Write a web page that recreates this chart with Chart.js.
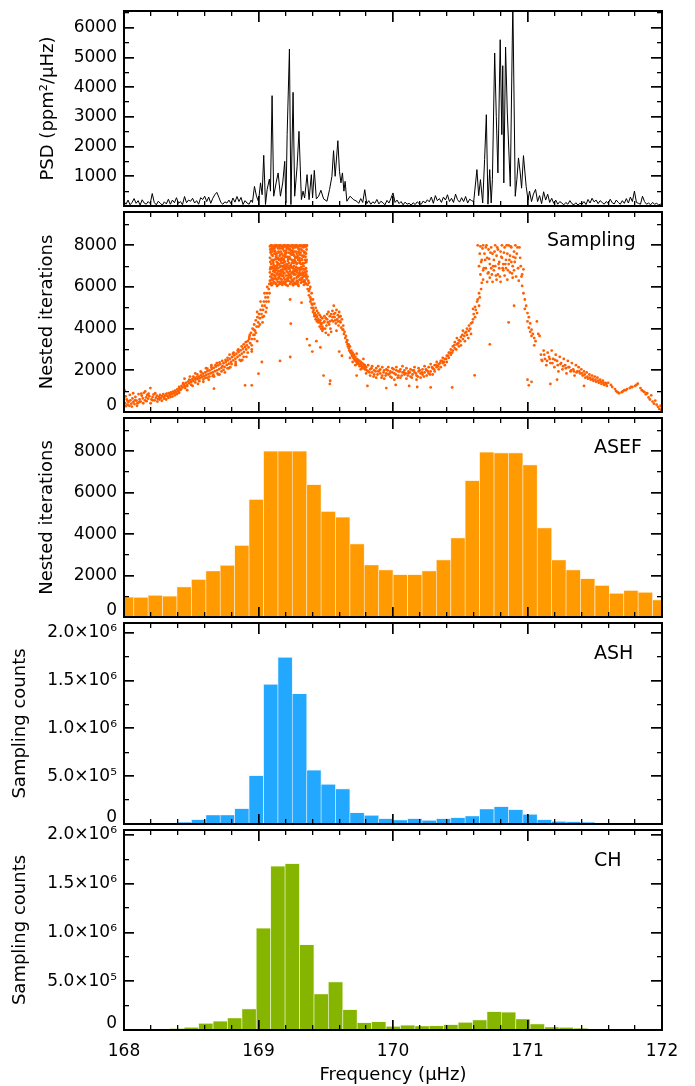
<!DOCTYPE html>
<html>
<head>
<meta charset="utf-8">
<script src="https://cdn.jsdelivr.net/npm/chart.js@4.4.1/dist/chart.umd.min.js"></script>
<style>
  html, body { margin:0; padding:0; background:#fff; }
  body { position:relative; width:695px; height:1086px; overflow:hidden; font-family:"DejaVu Sans", sans-serif; }
  canvas { position:absolute; left:0; }
  .tag { position:absolute; font-family:"DejaVu Sans", sans-serif; font-size:19px; line-height:19px; color:#000; white-space:nowrap; }
</style>
</head>
<body>
<canvas id="cPsd" width="695" height="235" style="top:-4px;width:695px;height:235px"></canvas>
<canvas id="cSampling" width="695" height="247" style="top:190px;width:695px;height:247px"></canvas>
<canvas id="cAsef" width="695" height="246" style="top:396px;width:695px;height:246px"></canvas>
<canvas id="cAsh" width="695" height="248" style="top:601px;width:695px;height:248px"></canvas>
<canvas id="cCh" width="695" height="278" style="top:808px;width:695px;height:278px"></canvas>
<div class="tag" style="left:547px;top:230px">Sampling</div>
<div class="tag" style="left:594px;top:437px">ASEF</div>
<div class="tag" style="left:594px;top:643px">ASH</div>
<div class="tag" style="left:594px;top:849.5px">CH</div>
<script>
// ---------------- DATA ----------------
const xTitle = 'Frequency (µHz)';
const psdTitle = 'PSD (ppm²/µHz)';
const nestedTitle = 'Nested iterations';
const countsTitle = 'Sampling counts';

// axis ticks and labels
const freqTicks = [168, 169, 170, 171, 172];
const freqLabels = ['168', '169', '170', '171', '172'];
const freqMinorTicks = [168.2,168.4,168.6,168.8,169.2,169.4,169.6,169.8,170.2,170.4,170.6,170.8,171.2,171.4,171.6,171.8];
const psdTicks = [1000, 2000, 3000, 4000, 5000, 6000];
const psdLabels = ['1000', '2000', '3000', '4000', '5000', '6000'];
const psdMinorTicks = [500, 1500, 2500, 3500, 4500, 5500, 6500];
const iterTicks = [0, 2000, 4000, 6000, 8000];
const iterLabels = ['0', '2000', '4000', '6000', '8000'];
const iterMinorTicks = [1000, 3000, 5000, 7000, 9000];
const countTicks = [0, 500000, 1000000, 1500000, 2000000];
const countLabels = ['0', '5.0×10⁵', '1.0×10⁶', '1.5×10⁶', '2.0×10⁶'];
const countMinorTicks = [250000, 750000, 1250000, 1750000];

// power spectral density: [frequency µHz, ppm²/µHz]
const psdPoints = [
[168.000,150],[168.015,60],[168.030,200],[168.045,40],[168.060,120],[168.075,250],[168.090,90],[168.105,180],[168.120,30],[168.135,210],
[168.150,100],[168.165,60],[168.180,150],[168.195,80],[168.210,420],[168.225,120],[168.240,40],[168.255,160],[168.270,90],[168.285,30],
[168.300,140],[168.315,70],[168.330,230],[168.345,60],[168.360,200],[168.375,110],[168.390,280],[168.405,90],[168.420,150],[168.435,40],
[168.450,320],[168.465,110],[168.480,200],[168.495,160],[168.510,260],[168.525,100],[168.540,180],[168.555,60],[168.570,280],[168.585,220],
[168.600,330],[168.615,150],[168.630,300],[168.645,90],[168.660,260],[168.675,380],[168.690,460],[168.705,300],[168.720,120],[168.735,60],
[168.750,140],[168.765,100],[168.780,200],[168.795,80],[168.810,270],[168.825,130],[168.840,320],[168.855,150],[168.870,290],[168.885,50],
[168.900,180],[168.915,100],[168.930,60],[168.945,200],[168.955,120],
[168.970,660],[168.985,330],[169.000,150],[169.015,780],[169.027,380],[169.039,1707],[169.052,50],[169.064,550],[169.081,910],[169.089,500],
[169.101,3717],[169.113,330],[169.131,780],[169.146,1114],[169.163,330],[169.180,780],[169.195,1505],[169.204,110],[169.213,2404],[169.230,5290],
[169.241,50],[169.257,3830],[169.269,330],[169.287,1340],[169.301,2515],[169.319,215],[169.331,500],[169.343,270],[169.361,1057],[169.376,215],
[169.393,1057],[169.402,270],[169.415,1200],[169.430,240],[169.447,330],[169.464,530],[169.484,240],[169.509,160],[169.528,550],[169.546,1000],
[169.558,1865],[169.570,1000],[169.590,2200],[169.602,1170],[169.613,780],[169.624,1114],[169.635,500],[169.644,830],[169.657,160],[169.681,330],
[169.706,215],[169.731,160],
[169.745,90],[169.760,250],[169.775,120],[169.790,550],[169.805,80],[169.820,180],[169.835,60],[169.850,140],[169.865,90],[169.880,220],
[169.895,70],[169.910,160],[169.925,110],[169.940,40],[169.955,190],[169.970,100],[169.985,260],[170.000,440],[170.015,120],[170.030,200],
[170.045,80],[170.060,150],[170.075,40],[170.090,130],[170.105,60],[170.120,90],[170.135,30],[170.150,110],[170.165,50],[170.180,140],
[170.195,80],[170.210,60],[170.225,170],[170.240,100],[170.255,210],[170.270,140],[170.285,300],[170.300,90],[170.315,350],[170.330,180],
[170.345,250],[170.360,120],[170.375,300],[170.390,200],[170.405,380],[170.420,150],[170.435,260],[170.450,120],[170.465,400],[170.480,210],
[170.495,130],[170.510,280],[170.525,150],[170.540,320],[170.555,100],[170.570,230],[170.585,180],[170.600,150],
[170.624,1226],[170.637,350],[170.650,889],[170.667,100],[170.681,1562],[170.694,3077],[170.706,60],[170.719,1226],[170.730,100],[170.739,889],
[170.756,5155],[170.768,3020],[170.780,1114],[170.797,5602],[170.809,2404],[170.816,4727],[170.824,777],[170.837,5357],[170.850,3134],[170.872,663],
[170.891,6900],[170.909,327],[170.921,900],[170.933,1620],[170.946,1114],[170.956,600],[170.970,1697],[170.990,663],[171.004,200],[171.015,500],
[171.030,150],[171.044,400],
[171.060,560],[171.075,150],[171.090,350],[171.105,80],[171.120,480],[171.135,200],[171.150,400],[171.165,120],[171.180,260],[171.195,90],
[171.210,200],[171.225,60],[171.240,150],[171.255,100],[171.270,40],[171.285,120],[171.300,60],[171.315,180],[171.330,80],[171.345,40],
[171.360,110],[171.375,30],[171.390,90],[171.405,60],[171.420,150],[171.435,50],[171.450,220],[171.465,100],[171.480,260],[171.495,140],
[171.510,200],[171.525,80],[171.540,180],[171.555,120],[171.570,60],[171.585,150],[171.600,90],[171.615,230],[171.630,110],[171.645,70],
[171.660,200],[171.675,120],[171.690,60],[171.705,180],[171.720,90],[171.735,250],[171.750,100],[171.765,300],[171.780,150],[171.795,500],
[171.810,120],[171.825,90],[171.840,60],[171.855,330],[171.870,150],[171.885,60],[171.900,100],[171.915,40],[171.930,120],[171.945,60],
[171.960,90],[171.975,40],[171.990,60],[172.000,30]
];

// nested sampling points: [frequency µHz, nested iteration]
const samplingPoints = [
[168.004,1050],[168.008,420],[168.014,280],[168.02,600],[168.026,350],[168.033,480],[168.04,300],[168.047,560],[168.055,400],[168.063,650],
[168.07,480],[168.078,380],[168.085,720],[168.093,550],[168.1,420],[168.108,860],[168.116,600],[168.124,500],[168.132,780],[168.14,650],
[168.148,920],[168.156,560],[168.164,700],[168.172,820],[168.18,640],[168.188,760],[168.196,1150],
[168.204,600],[168.212,720],[168.22,840],[168.228,560],[168.236,680],[168.244,780],[168.252,620],[168.26,720],[168.268,820],[168.276,680],
[168.284,760],[168.292,860],[168.3,720],[168.308,800],[168.316,880],[168.324,760],[168.332,900],[168.34,820],[168.348,940],[168.356,860],
[168.364,980],[168.372,900],[168.38,1020],[168.388,940],[168.396,1080],[168.404,1000],[168.412,1140],[168.42,1060],
[168.428,1250],[168.436,1180],[168.444,1320],[168.452,1240],[168.46,1400],[168.468,1300],[168.476,1460],[168.484,1380],[168.492,1520],[168.5,1440],
[168.508,1580],[168.516,1500],[168.524,1640],[168.532,1560],[168.54,1660],[168.548,1580],[168.556,1700],[168.564,1620],
[168.572,1760],[168.58,1680],[168.588,1840],[168.596,1720],[168.604,1900],[168.612,1780],[168.62,1960],[168.628,1820],[168.636,2000],[168.644,1860],
[168.652,2060],[168.66,1900],[168.668,2120],[168.676,1960],[168.684,2180],[168.692,2000],[168.7,2240],[168.708,2060],[168.716,2300],[168.724,2120],
[168.732,2200],[168.74,2340],[168.748,2160],[168.756,2400],[168.62,1650],[168.66,1720],[168.7,1800],[168.669,1120],
[168.764,2260],[168.772,2480],[168.78,2320],[168.788,2560],[168.796,2400],[168.804,2640],[168.812,2480],[168.82,2720],[168.828,2560],[168.836,2800],
[168.844,2640],[168.852,2880],[168.86,2720],[168.868,2960],[168.876,2800],[168.884,3040],[168.892,2880],[168.9,3120],[168.908,3000],
[168.78,2100],[168.83,2250],[168.88,2500],[168.9,1280],[168.95,1280],[169.0,1840],[169.025,2400],
[168.914,3200],[168.92,3400],[168.926,3100],[168.932,3600],[168.938,3300],[168.944,3800],[168.95,3500],[168.956,4000],[168.962,3700],[168.968,4200],
[168.974,3900],[168.98,4400],[168.986,4100],[168.992,4550],[168.998,4300],[169.004,4700],[168.95,3200],[168.97,3500],
[169.01,4500],[169.016,4900],[169.022,4700],[169.028,5100],[169.034,4900],[169.04,5300],[169.046,5100],[169.052,5500],[169.058,5300],[169.064,5700],
[169.07,5500],[169.076,5900],[169.082,5700],[169.04,4600],[169.06,5000],
[169.085,7950],[169.085,7400],[169.085,6700],[169.085,6300],[169.095,8000],[169.095,7100],[169.095,6900],[169.095,6200],
[169.105,7800],[169.105,7500],[169.105,6600],[169.105,6150],[169.115,7990],[169.115,7300],[169.115,6800],[169.115,6400],
[169.125,7700],[169.125,7000],[169.125,6500],[169.125,6200],[169.135,8000],[169.135,7600],[169.135,7200],[169.135,6350],
[169.145,7850],[169.145,7400],[169.145,6900],[169.145,6100],[169.155,7950],[169.155,7100],[169.155,6600],[169.155,6250],
[169.165,8000],[169.165,7700],[169.165,6800],[169.165,6400],[169.175,7600],[169.175,7300],[169.175,7000],[169.175,6150],
[169.185,7900],[169.185,7500],[169.185,6700],[169.185,6250],[169.195,8000],[169.195,7200],[169.195,6850],[169.195,6350],
[169.205,7750],[169.205,7450],[169.205,6550],[169.205,6100],[169.215,7980],[169.215,7050],[169.215,6950],[169.215,6300],
[169.225,8000],[169.225,7650],[169.225,7150],[169.225,6450],[169.235,7800],[169.235,7350],[169.235,6750],[169.235,6150],
[169.245,7950],[169.245,7550],[169.245,6650],[169.245,6250],[169.255,8000],[169.255,7250],[169.255,6900],[169.255,6150],
[169.265,7700],[169.265,7500],[169.265,7000],[169.265,6400],[169.275,7900],[169.275,7200],[169.275,6600],[169.275,6200],
[169.285,8000],[169.285,7600],[169.285,6800],[169.285,6300],[169.295,7850],[169.295,7300],[169.295,6900],[169.295,6100],
[169.305,7950],[169.305,7400],[169.305,6700],[169.305,6350],[169.315,8000],[169.315,7100],[169.315,6600],[169.315,6200],
[169.325,7750],[169.325,7500],[169.325,6850],[169.325,6400],[169.335,7900],[169.335,7000],[169.335,6500],[169.335,6250],
[169.345,8000],[169.345,7300],[169.345,6700],[169.345,6300],[169.355,7950],[169.355,7200],[169.355,6600],[169.355,6150],
[169.09,7650],[169.09,6950],[169.1,7850],[169.1,6450],[169.11,7150],[169.11,6750],[169.12,7750],[169.12,6550],[169.13,7450],[169.13,6850],
[169.14,7050],[169.14,6650],[169.15,7650],[169.15,6450],[169.16,7350],[169.16,6950],[169.17,7150],[169.17,6550],[169.18,7850],[169.18,6750],
[169.19,7250],[169.19,6450],[169.2,7550],[169.2,6950],[169.21,7850],[169.21,6750],[169.22,7350],[169.22,6550],[169.23,7450],[169.23,6850],
[169.24,7050],[169.24,6450],[169.25,7750],[169.25,6950],[169.26,7550],[169.26,6650],[169.27,7250],[169.27,6750],[169.28,7450],[169.28,6950],
[169.29,7150],[169.29,6500],[169.3,7650],[169.3,6600],[169.31,7550],[169.31,6850],[169.32,7350],[169.32,6450],[169.33,7150],[169.33,6650],
[169.34,7650],[169.34,6850],[169.35,7450],[169.35,6500],
[169.1,7990],[169.13,8000],[169.16,7990],[169.19,8000],[169.22,7990],[169.25,8000],[169.28,7990],[169.31,8000],[169.34,7990],[169.36,8000],
[169.088,7200],[169.088,6500],[169.093,7700],[169.093,6150],[169.098,7300],[169.098,6600],[169.103,6950],[169.103,7700],[169.108,6350],[169.108,7950],
[169.113,7050],[169.113,6250],[169.118,7600],[169.118,6900],[169.123,6700],[169.123,7900],[169.128,7350],[169.128,6400],[169.133,6800],[169.133,7500],
[169.138,7950],[169.138,6600],[169.143,7150],[169.143,6250],[169.148,7700],[169.148,6750],[169.153,6500],[169.153,7300],[169.158,7850],[169.158,6150],
[169.163,7000],[169.163,7550],[169.168,6650],[169.168,7950],[169.173,7400],[169.173,6350],[169.178,7950],[169.178,6850],[169.183,6550],[169.183,7150],
[169.188,7750],[169.188,6200],[169.193,7050],[169.193,6650],[169.198,7450],[169.198,7950],[169.203,6900],[169.203,6250],[169.208,7650],[169.208,7100],
[169.213,6400],[169.213,7900],[169.218,7250],[169.218,6700],[169.223,7850],[169.223,6300],[169.228,6600],[169.228,7400],[169.233,7950],[169.233,7000],
[169.238,6950],[169.238,6250],[169.243,7700],[169.243,6500],[169.248,7300],[169.248,7950],[169.253,6700],[169.253,7550],[169.258,7850],[169.258,6300],
[169.263,6600],[169.263,7150],[169.268,7950],[169.268,6850],[169.273,7400],[169.273,6150],[169.278,6800],[169.278,7700],[169.283,7100],[169.283,6450],
[169.288,7950],[169.288,6700],[169.293,7500],[169.293,6250],[169.298,6550],[169.298,7300],[169.303,7800],[169.303,6900],[169.308,7150],[169.308,6350],
[169.313,7650],[169.313,6600],[169.318,6950],[169.318,7950],[169.323,7300],[169.323,6250],[169.328,7950],[169.328,6700],[169.333,6600],[169.333,7450],
[169.338,7700],[169.338,6300],[169.343,7150],[169.343,6850],[169.348,7950],[169.348,6550],[169.353,6900],[169.353,7600],[169.358,7300],[169.358,6400],
[169.0875,7800],[169.0875,6850],[169.0975,7550],[169.0975,6350],[169.1075,7250],[169.1075,6900],[169.1175,7850],[169.1175,6550],[169.1275,7600],[169.1275,6150],
[169.1375,6950],[169.1375,7350],[169.1475,7950],[169.1475,6400],[169.1575,7500],[169.1575,6750],[169.1675,7250],[169.1675,6250],[169.1775,7850],[169.1775,6550],
[169.1875,7350],[169.1875,6950],[169.1975,7650],[169.1975,6150],[169.2075,7950],[169.2075,6850],[169.2175,7450],[169.2175,6400],[169.2275,6900],[169.2275,7800],
[169.2375,7600],[169.2375,6550],[169.2475,7150],[169.2475,6350],[169.2575,7650],[169.2575,6750],[169.2675,7300],[169.2675,6200],[169.2775,7950],[169.2775,6850],
[169.2875,7400],[169.2875,6150],[169.2975,7700],[169.2975,6500],[169.3075,7250],[169.3075,6800],[169.3175,7800],[169.3175,6350],[169.3275,7100],[169.3275,6600],
[169.3375,7500],[169.3375,6850],[169.3475,7650],[169.3475,6200],[169.3575,7800],[169.3575,6750],
[169.0925,8000],[169.1225,7980],[169.1525,8000],[169.1825,7990],[169.2125,8000],[169.2425,7980],[169.2725,8000],[169.3025,7990],[169.3325,8000],[169.3525,7980],
[169.0975,6080],[169.1375,6050],[169.1775,6100],[169.2175,6060],[169.2575,6080],[169.2975,6050],[169.3375,6100],
[169.16,2450],[169.236,2640],[169.24,4240],[169.235,5400],[169.32,5250],
[169.365,6500],[169.365,6100],[169.365,5900],[169.375,6200],[169.375,5800],[169.375,5600],[169.385,6000],[169.385,5500],[169.385,5300],
[169.395,5700],[169.395,5200],[169.395,5000],[169.405,5400],[169.405,5000],[169.405,4800],[169.415,5200],[169.415,4700],[169.415,4600],
[169.425,5000],[169.425,4600],[169.425,4450],[169.435,4850],[169.435,4550],[169.435,4350],[169.445,4750],[169.445,4450],[169.445,4300],
[169.455,4650],[169.455,4300],[169.455,4100],[169.465,4550],[169.465,4200],[169.465,4000],[169.475,4500],[169.475,4100],[169.475,3900],
[169.37,6300],[169.38,5900],[169.39,5400],[169.4,5150],[169.41,4900],[169.42,4750],[169.43,4650],[169.44,4400],[169.45,4350],[169.46,4400],
[169.47,4250],[169.48,4000],
[169.36,3500],[169.38,3200],[169.4,2900],[169.43,3400],[169.46,3100],[169.484,1750],[169.533,1500],[169.53,1350],
[169.485,4300],[169.49,4600],[169.495,4000],[169.5,4500],[169.505,4150],[169.51,4700],[169.515,4300],[169.52,4800],[169.525,4200],[169.53,4600],
[169.535,4000],[169.54,4700],[169.545,4400],[169.55,4850],[169.555,4350],[169.56,5100],[169.565,4550],[169.57,4750],[169.575,4250],[169.58,4900],
[169.585,4450],[169.59,4650],[169.595,4150],[169.6,4800],[169.605,4350],[169.61,4600],[169.615,4050],[169.62,4450],[169.625,3950],[169.63,4150],
[169.635,3750],[169.64,3850],[169.645,3550],[169.65,3650],[169.655,3350],[169.6,2900],[169.62,2700],
[169.49,4350],[169.51,4450],[169.53,4350],[169.55,4550],[169.57,4400],[169.59,4350],[169.61,4300],[169.63,3950],[169.58,3900],[169.54,3850],
[169.52,3700],[169.5,3800],[169.56,4700],[169.6,4550],
[169.66,3450],[169.665,3150],[169.67,3250],[169.675,2950],[169.68,3150],[169.685,2850],[169.69,2950],[169.695,2700],[169.7,2850],[169.705,2600],
[169.71,2750],[169.715,2500],[169.72,2650],[169.725,2420],[169.73,2550],[169.735,2350],[169.74,2500],[169.745,2300],[169.75,2450],[169.755,2250],
[169.76,2400],[169.765,2200],[169.77,2350],[169.775,2150],[169.78,2300],[169.785,2100],[169.79,2250],[169.795,2050],[169.73,2800],[169.78,2550],
[169.73,1750],
[169.662,3250],[169.672,3050],[169.682,2900],[169.692,2800],[169.702,2700],[169.712,2550],[169.722,2450],[169.732,2300],[169.742,2400],[169.752,2200],
[169.762,2300],[169.772,2100],[169.782,2200],[169.792,2050],[169.7,2400],[169.72,2250],[169.76,2050],[169.68,2600],
[169.8,2150],[169.8,1850],[169.815,2250],[169.815,1950],[169.83,2050],[169.83,1750],[169.845,2200],[169.845,1900],[169.86,2000],[169.86,1800],
[169.875,2100],[169.875,1650],[169.89,1950],[169.89,2200],[169.905,1850],[169.905,2050],[169.92,2150],[169.92,1750],[169.935,2000],[169.935,1600],
[169.95,2050],[169.95,1850],[169.965,1800],[169.965,2150],[169.98,1950],[169.98,1700],[169.995,2100],[169.995,1900],[170.01,1850],[170.01,1550],
[170.025,2000],[170.025,2150],[170.04,1750],[170.04,1950],[170.055,2050],[170.055,1650],[170.07,1900],[170.07,2200],[170.085,1800],[170.085,2000],
[170.1,2100],[170.1,1600],[170.115,1850],[170.115,1950],[170.13,1700],[170.13,2050],[170.145,2000],[170.145,1800],[170.16,2150],[170.16,1900],
[170.175,1750],[170.175,1550],[170.19,1950],[170.19,2100],[170.205,1850],[170.205,1650],[170.22,2050],[170.22,1800],[170.235,1900],[170.235,2200],
[170.25,2000],[170.25,1750],[170.265,2150],[170.265,1850],[170.28,1950],[170.28,2300],[170.295,2100],[170.295,1800],[170.31,2250],[170.31,1950],
[170.325,2150],[170.325,2400],[170.34,2050],[170.34,2300],[170.355,2450],[170.355,2150],[170.37,2350],[170.37,2600],[170.385,2550],[170.385,2250],
[170.4,2700],[170.4,2400],[170.415,2600],[170.415,2850],[170.43,2750],[170.43,3000],[170.445,2950],[170.445,3150],
[169.805,2000],[169.825,1900],[169.84,2100],[169.855,1700],[169.87,1950],[169.885,1800],[169.9,2000],[169.915,1650],[169.93,1900],[169.945,1750],
[169.96,2000],[169.975,1850],[169.99,1650],[170.005,2050],[170.02,1800],[170.035,1650],[170.05,1950],[170.065,1750],[170.08,1900],[170.095,1850],
[170.11,1750],[170.125,1900],[170.14,1650],[170.155,2000],[170.17,1850],[170.185,1700],[170.2,2000],[170.215,1900],[170.23,1700],[170.245,2050],
[170.26,1950],[170.275,1800],[170.29,2150],[170.305,2050],[170.32,2250],[170.335,2200],[170.35,2350],[170.365,2450],[170.38,2400],[170.395,2550],
[170.41,2700],[170.425,2850],[170.44,2850],
[169.81,1250],[169.95,1150],[170.02,1300],[170.12,1250],[170.18,1200],[170.28,1180],[170.44,1180],[170.607,1760],
[170.46,3050],[170.46,3350],[170.475,3250],[170.475,3550],[170.49,3450],[170.49,3150],[170.505,3600],[170.505,3200],[170.52,3500],[170.52,3900],
[170.535,3800],[170.535,3400],[170.55,4000],[170.55,3700],[170.565,3900],[170.565,4150],[170.58,4250],[170.58,3750],[170.595,4950],[170.595,4450],
[170.61,5050],[170.61,4550],[170.625,5300],[170.625,4750],[170.64,5700],[170.64,5100],[170.655,5900],[170.72,3250],
[170.455,3200],[170.47,3000],[170.485,3300],[170.5,3400],[170.515,3700],[170.53,3650],[170.545,3850],[170.56,3550],[170.575,4000],[170.59,4300],
[170.6,4700],[170.615,4900],[170.63,5400],[170.645,5500],[170.66,6200],[170.67,6800],
[170.63,8000],[170.65,7950],[170.67,8000],[170.69,7900],
[170.64,7000],[170.65,6600],[170.66,7300],[170.67,6350],[170.68,7600],[170.69,6900],[170.7,6250],[170.7,7400],[170.71,7800],[170.71,6700],
[170.72,7100],[170.72,6450],[170.73,7900],[170.73,6900],[170.74,7600],[170.74,6250],[170.75,7300],[170.75,6800],[170.76,8000],[170.76,7000],
[170.77,7500],[170.77,6350],[170.78,7800],[170.78,6600],[170.79,7200],[170.79,6900],[170.8,7700],[170.8,6250],[170.81,8000],[170.81,7400],
[170.82,6800],[170.82,7100],[170.83,7900],[170.83,6550],[170.84,7300],[170.84,6900],[170.85,7600],[170.85,6350],[170.86,8000],[170.86,7100],
[170.87,7500],[170.87,6700],[170.88,7900],[170.88,7200],[170.89,7000],[170.89,6450],[170.9,7700],[170.9,6800],[170.91,8000],[170.91,7400],
[170.92,7600],[170.93,6900],[170.94,7900],[170.95,7000],[170.96,6600],
[170.645,7600],[170.655,7200],[170.665,7850],[170.675,6900],[170.685,7300],[170.695,8000],[170.705,6650],[170.715,7350],[170.725,7650],[170.735,6600],
[170.745,7000],[170.755,7700],[170.765,6550],[170.775,7900],[170.785,7100],[170.795,6500],[170.805,7450],[170.815,6900],[170.825,7650],[170.835,7100],
[170.845,8000],[170.855,6800],[170.865,7300],[170.875,7950],[170.885,6650],[170.895,7450],[170.905,7200],[170.915,6500],[170.925,7900],[170.935,6300],
[170.945,7400],[170.955,6500],
[170.86,4300],[170.9,5100],[170.97,6850],
[170.96,6050],[170.97,5700],[170.98,5400],[170.98,4950],[170.99,5100],[171.0,4750],[171.0,4350],[171.01,4550],[171.01,4050],[171.02,4250],
[171.02,3850],[171.03,3950],[171.03,3650],[171.04,3750],[171.05,3550],[171.05,3200],[171.06,3400],[171.08,3750],[171.09,3650],[171.07,4350],
[171.0,1550],[171.01,1280],[171.03,1450],
[171.1,2750],[171.11,2450],[171.12,2950],[171.13,2550],[171.14,2250],[171.15,2850],[171.16,2650],[171.17,2350],[171.18,2950],[171.19,2550],
[171.2,2150],[171.21,2750],[171.22,2450],[171.23,1950],[171.24,2650],[171.25,2350],[171.26,2050],[171.27,2550],[171.28,2250],[171.29,1850],
[171.3,2450],[171.31,2150],[171.32,1950],[171.33,2350],[171.34,2050],[171.35,1750],[171.36,2250],[171.37,1950],[171.17,1350],[171.22,1550],
[171.105,2500],[171.125,2750],[171.145,2450],[171.165,2550],[171.185,2350],[171.205,2500],[171.225,2250],[171.245,2300],[171.265,2200],[171.285,2100],
[171.305,2150],[171.325,2000],[171.345,1950],[171.365,1900],[171.385,1950],[171.405,1850],[171.425,1800],[171.445,1700],[171.465,1650],[171.485,1600],
[171.505,1550],[171.525,1500],[171.545,1450],[171.565,1400],[171.585,1350],
[171.38,2150],[171.39,1850],[171.4,2050],[171.41,1750],[171.42,1950],[171.43,1650],[171.44,1900],[171.45,1600],[171.46,1800],[171.47,1550],
[171.48,1750],[171.49,1500],[171.5,1700],[171.51,1450],[171.52,1650],[171.53,1400],[171.54,1550],[171.55,1350],[171.56,1500],[171.57,1300],
[171.58,1400],[171.59,1250],[171.42,1250],
[171.6,1400],[171.62,1300],[171.63,1200],[171.65,1100],[171.66,1000],[171.67,950],[171.68,900],[171.7,950],[171.71,1000],[171.72,1050],
[171.73,1050],[171.74,1100],[171.76,1150],[171.77,1200],[171.78,1200],[171.8,1250],[171.81,1300],[171.82,1360],
[171.84,1150],[171.85,1050],[171.86,1000],[171.87,950],[171.88,850],[171.89,900],[171.9,700],[171.91,600],[171.92,800],[171.93,500],
[171.94,400],[171.95,550],[171.96,350],[171.97,250],[171.98,150],[171.99,300],[171.995,100],
[168.012,750],[168.028,520],[168.043,820],[168.058,260],[168.068,900],[168.082,560],[168.097,300],[168.113,470],[168.128,880],[168.143,420],
[168.158,990],[168.168,520],[168.183,880],[168.198,420],[168.214,560],[168.232,900],[168.248,500],[168.264,600],[168.281,540],[168.298,640],
[168.313,600],[168.33,680],[168.345,720],[168.36,740],[168.378,800],[168.394,860],[168.41,920],
[168.41,1200],[168.425,1100],[168.44,1380],[168.455,1150],[168.47,1250],[168.485,1550],[168.5,1300],[168.515,1700],[168.53,1420],[168.545,1800],
[168.56,1480],[168.575,1900],[168.59,1560],[168.605,1640],[168.62,2080],[168.635,1700],[168.65,2150],[168.665,1780],[168.68,2250],[168.695,1850],
[168.71,2380],[168.725,1950],[168.74,2020],[168.755,2500],[168.77,2100],
[168.785,2750],[168.8,2300],[168.815,2850],[168.83,2400],[168.845,2950],[168.86,2500],[168.875,3150],[168.89,2650],[168.905,3350],[168.92,2850],
[168.935,3700],[168.95,3000],[168.965,3950],[168.98,3800],[168.99,4800],[169.0,4100],[169.015,5300],[169.03,4550],[169.045,5700],[169.055,4800],
[169.065,6000],[169.075,5300],[169.08,6150],
[168.45,1600],[168.47,1050],[168.49,1700],[168.51,1250],[168.53,1850],[168.55,1350],[168.57,1950],[168.59,1450],[168.61,2100],[168.63,1550],
[168.65,2250],[168.67,1700],[168.69,2350],[168.71,1800],[168.73,2450],[168.75,1900],[168.77,2600],[168.79,2150],[168.81,2800],[168.83,2300],
[168.85,3000],[168.87,2450],[168.89,3250],[168.91,2650],[168.93,3500],[168.95,2900],[168.97,3700],[168.99,3400],[169.01,4200],[169.03,4300]
];

// histogram bins (bin centres, µHz)
const asefCenters = [168.019,168.126,168.233,168.340,168.447,168.555,168.662,168.769,168.876,168.983,
  169.091,169.198,169.305,169.412,169.519,169.626,169.733,169.840,169.947,170.054,
  170.162,170.269,170.376,170.483,170.590,170.697,170.805,170.912,171.019,171.126,
  171.233,171.340,171.447,171.555,171.662,171.769,171.876,171.983];
const asefValues = [960,950,1040,1010,1450,1810,2220,2490,3450,5670,
  8000,8000,8000,6390,5090,4820,3530,2510,2270,2050,
  2050,2230,2760,3820,6580,7950,7920,7920,7340,4300,
  2750,2270,1850,1520,1140,1280,1190,830];
const ashValues = [2000,5000,10000,10000,20000,45000,94000,94000,160000,506000,
  1459000,1741000,1361000,562000,415000,367000,118000,91000,56000,42000,
  56000,38000,56000,66000,84000,157000,181000,150000,101000,45000,
  28000,24000,20000,8000,3000,5000,2000,1000];
const chCenters = [168.073,168.180,168.287,168.394,168.501,168.608,168.716,168.823,168.930,169.037,
  169.144,169.251,169.359,169.466,169.573,169.680,169.787,169.894,170.002,170.109,
  170.216,170.323,170.430,170.538,170.645,170.752,170.859,170.966,171.073,171.181,
  171.288,171.395,171.502,171.609,171.717,171.824,171.931];
const chValues = [2000,3000,5000,15000,27000,69000,92000,123000,216000,1045000,
  1679000,1706000,874000,370000,493000,210000,75000,85000,38000,51000,
  41000,44000,55000,79000,103000,188000,182000,113000,62000,31000,
  27000,17000,10000,7000,3000,1000,0];

// ---------------- CHART SETUP ----------------
const FONT = '"DejaVu Sans", sans-serif';
const X_MIN = 168, X_MAX = 172;

function useTicks(values) {
  return function (scale) { scale.ticks = values.map(v => ({value: v})); };
}
function labelFrom(values, labels, liftZero) {
  return function (v) {
    const i = values.indexOf(v);
    const s = i >= 0 ? labels[i] : '';
    return (liftZero && v === 0) ? [s, ''] : s;
  };
}

function buildScales(p) {
  const gridOf = (len, w) => ({display:true, offset:false, drawOnChartArea:false, drawTicks:true,
    tickLength:len, color:'#000', lineWidth:w, z:2});
  const frameAxis = (axis, position, min, max, values, len, w, border) => ({
    type:'linear', axis:axis, position:position, min:min, max:max, bounds:'data', offset:false, beginAtZero:false,
    grid: gridOf(len, w),
    border: border ? {display:true, color:'#000', width:2, z:2} : {display:false},
    ticks: {display:false, autoSkip:false},
    afterBuildTicks: useTicks(values)
  });
  return {
    x: {type:'linear', position:'bottom', min:X_MIN, max:X_MAX, bounds:'data', offset:false,
        grid:{display:true, offset:false, drawOnChartArea:false, drawTicks:false, color:'#000', z:2},
        border:{display:true, color:'#000', width:2, z:2},
        ticks:{display:p.showX, autoSkip:false, maxRotation:0, minRotation:0,
               padding:11.5, color:'#000', font:{family:FONT, size:17}, callback: labelFrom(freqTicks, freqLabels, false)},
        title:{display:p.showX, text:xTitle, color:'#000', font:{family:FONT, size:18}, padding:{top:0, bottom:0}},
        afterBuildTicks: useTicks(freqTicks),
        afterFit: s => { s.height = p.bottomExtra; }},
    y: {type:'linear', position:'left', min:p.yMin, max:p.yMax, bounds:'data', beginAtZero:false,
        grid:{display:true, drawOnChartArea:false, drawTicks:false, color:'#000', z:2},
        border:{display:true, color:'#000', width:2, z:2},
        ticks:{autoSkip:false, padding:7, color:'#000',
               font:{family:FONT, size:17, lineHeight:0.8}, callback: labelFrom(p.yTicks, p.yLabels, true)},
        title:{display:true, text:p.yTitle, color:'#000', font:{family:FONT, size:18}, padding:{top:p.titlePad, bottom:0}},
        afterBuildTicks: useTicks(p.yTicks),
        afterFit: s => { s.width = 124; }},
    xMajB: frameAxis('x', {y:p.yMin}, X_MIN, X_MAX, freqTicks, -10, 1.7, false),
    xMinB: frameAxis('x', {y:p.yMin}, X_MIN, X_MAX, freqMinorTicks, -5, 1.3, false),
    xMajT: frameAxis('x', {y:p.yMax}, X_MIN, X_MAX, freqTicks, 10, 1.7, true),
    xMinT: frameAxis('x', {y:p.yMax}, X_MIN, X_MAX, freqMinorTicks, 5, 1.3, false),
    yMajL: frameAxis('y', {x:X_MIN}, p.yMin, p.yMax, p.yTicks, -10, 1.7, false),
    yMinL: frameAxis('y', {x:X_MIN}, p.yMin, p.yMax, p.yMinor, -5, 1.3, false),
    yMajR: frameAxis('y', {x:X_MAX}, p.yMin, p.yMax, p.yTicks, 10, 1.7, true),
    yMinR: frameAxis('y', {x:X_MAX}, p.yMin, p.yMax, p.yMinor, 5, 1.3, false)
  };
}

function makePanel(id, type, datasets, p) {
  return new Chart(document.getElementById(id), {
    type: type,
    data: {datasets: datasets},
    options: {
      responsive:false, maintainAspectRatio:false, animation:false, devicePixelRatio:1, events:[],
      layout:{padding:{top:p.padTop, left:0, right:33, bottom:0}},
      plugins:{legend:{display:false}, tooltip:{enabled:false}, title:{display:false}},
      scales: buildScales(p)
    }
  });
}

// Panel 1: PSD
makePanel('cPsd', 'scatter', [{
  data: psdPoints.map(d => ({x:d[0], y:d[1]})),
  showLine:true, borderColor:'#000', borderWidth:1, pointRadius:0, pointHoverRadius:0, tension:0,
  clip:0, xAxisID:'x', yAxisID:'y'
}], {padTop:15, bottomExtra:25, yMin:0, yMax:6570, yTicks:psdTicks, yLabels:psdLabels, yMinor:psdMinorTicks,
     yTitle:psdTitle, titlePad:37.5, showX:false});

// Panel 2: Sampling scatter
makePanel('cSampling', 'scatter', [{
  data: samplingPoints.map(d => ({x:d[0], y:d[1]})),
  backgroundColor:'#ff5f00', borderWidth:0, pointRadius:1.4, pointHoverRadius:0,
  clip:0, xAxisID:'x', yAxisID:'y'
}], {padTop:22, bottomExtra:25, yMin:0, yMax:9600, yTicks:iterTicks, yLabels:iterLabels, yMinor:iterMinorTicks,
     yTitle:nestedTitle, titlePad:36.5, showX:false});

const barStyle = (bg, edge) => ({backgroundColor:bg, borderColor:edge, borderWidth:0.7, borderSkipped:'start',
  barPercentage:1, categoryPercentage:1, clip:0, xAxisID:'x', yAxisID:'y'});

// Panel 3: ASEF histogram
makePanel('cAsef', 'bar', [Object.assign({
  data: asefCenters.map((c, i) => ({x:c, y:asefValues[i]}))
}, barStyle('#ff9a00', '#ffe6c0'))],
  {padTop:22, bottomExtra:25, yMin:0, yMax:9600, yTicks:iterTicks, yLabels:iterLabels, yMinor:iterMinorTicks,
   yTitle:nestedTitle, titlePad:36.5, showX:false});

// Panel 4: ASH histogram
makePanel('cAsh', 'bar', [Object.assign({
  data: asefCenters.map((c, i) => ({x:c, y:ashValues[i]}))
}, barStyle('#22a8ff', '#cfeaff'))],
  {padTop:22, bottomExtra:25, yMin:0, yMax:2100000, yTicks:countTicks, yLabels:countLabels, yMinor:countMinorTicks,
   yTitle:countsTitle, titlePad:9.7, showX:false});

// Panel 5: CH histogram
makePanel('cCh', 'bar', [Object.assign({
  data: chCenters.map((c, i) => ({x:c, y:chValues[i]}))
}, barStyle('#86b500', '#e6f1c8'))],
  {padTop:22, bottomExtra:56, yMin:0, yMax:2050000, yTicks:countTicks, yLabels:countLabels, yMinor:countMinorTicks,
   yTitle:countsTitle, titlePad:9.7, showX:true});
</script>
</body>
</html>
